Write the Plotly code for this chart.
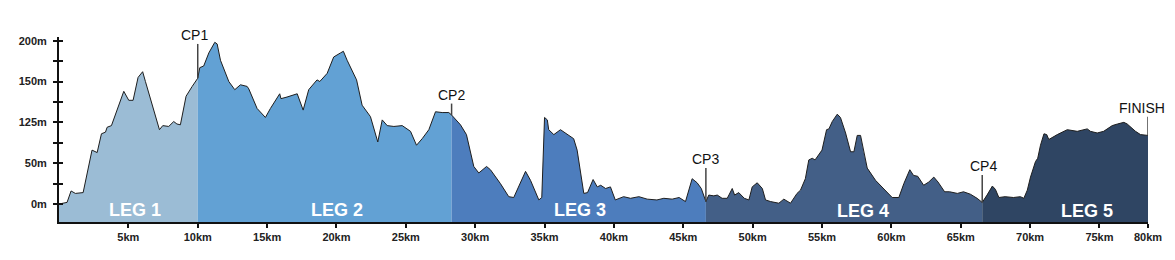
import plotly.graph_objects as go

# ---------------- data ----------------
distance_km = [
    0.0, 0.58, 0.87, 1.18, 1.74, 2.07, 2.38, 2.75, 3.06, 3.35, 3.47, 3.78, 4.14, 4.67,
    5.03, 5.34, 5.7, 6.03, 6.23, 6.71, 7.24, 7.48, 7.91, 8.27, 8.5, 8.75, 9.16, 9.6,
    10.0, 10.15, 10.43, 10.8, 11.23, 11.4, 11.64, 12.24, 12.67, 13.08, 13.56, 13.68,
    14.28, 14.88, 15.24, 15.91, 16.0, 16.44, 17.17, 17.6, 18.0, 18.6, 18.8, 19.33,
    19.8, 20.29, 20.5, 20.77, 21.25, 21.45, 21.85, 22.45, 22.98, 23.3, 23.66, 24.14,
    24.74, 25.34, 25.77, 26.18, 26.66, 27.14, 27.62, 28.1,
    28.3, 28.94, 29.37, 29.9, 30.26, 30.82, 31.1, 31.82, 32.42, 32.78, 33.63, 33.99,
    34.59, 34.8, 35.0, 35.2, 35.3, 35.67, 36.15, 36.63, 37.1, 37.35, 37.83, 38.1,
    38.5, 38.8, 39.05, 39.4, 39.75, 40.1, 40.7, 41.2, 41.8, 42.4, 43.1, 43.6, 44.2,
    44.7, 45.16, 45.64, 46.0, 46.3,
    46.63, 46.84, 47.2, 47.45, 47.8, 48.17, 48.53, 48.7, 49.0, 49.4, 49.73, 49.97,
    50.33, 50.7, 50.93, 51.3, 51.89, 52.25, 52.73, 53.2, 53.45, 53.8, 54.05, 54.3,
    54.5, 55.0, 55.33, 55.5, 55.74, 56.1, 56.33, 56.7, 57.06, 57.3, 57.54, 57.78,
    58.0, 58.26, 58.86, 59.46, 60.06, 60.54, 60.9, 61.33, 61.6, 61.9, 62.33, 62.7,
    63.06, 63.36, 63.84, 64.2, 64.76, 65.2, 65.7, 66.18,
    66.55, 66.9, 67.28, 67.5, 67.75, 68.2, 68.8, 69.3, 69.55, 69.8, 70.03, 70.39,
    70.55, 70.75, 71.0, 71.2, 71.35, 71.96, 72.68, 73.4, 74.12, 74.35, 74.84, 75.3,
    75.92, 76.3, 76.76, 77.0, 77.6, 77.96, 78.5,
]
elevation = [
    0, 2, 16, 13, 14, 42, 66, 63, 86, 88, 94, 96, 114, 138,
    127, 127, 155, 162, 150, 123, 91, 96, 95, 101, 98, 97, 132, 144,
    154, 167, 169, 185, 198, 196, 176, 150, 140, 146, 144, 141,
    117, 106, 117, 135, 129, 131, 135, 115, 140, 152, 150, 160,
    180, 185, 187, 176, 158, 152, 121, 107, 76, 103, 96, 95,
    96, 89, 72, 80, 91, 113, 112, 112,
    109, 97, 85, 46, 38, 46, 42, 25, 9, 8, 40, 29,
    5, 8, 106, 103, 91, 85, 91, 85, 80, 66, 13, 14,
    30, 21, 23, 19, 21, 5, 9, 7, 9, 6, 5, 7, 6,
    8, 3, 31, 26, 19,
    3, 11, 10, 11, 7, 7, 19, 11, 14, 7, 5, 21,
    26, 19, 5, 3, 1, 6, 1, 13, 17, 31, 54, 56,
    54, 66, 91, 92, 101, 110, 106, 87, 64, 64, 84, 84,
    64, 44, 29, 19, 8, 8, 25, 42, 35, 34, 23, 27,
    33, 27, 15, 15, 13, 15, 12, 7,
    2, 11, 22, 18, 8, 9, 8, 9, 7, 17, 33, 52,
    56, 72, 86, 85, 79, 85, 91, 89, 92, 89, 87, 89,
    96, 98, 100, 98, 89, 85, 84,
]

leg_names = ["LEG 1", "LEG 2", "LEG 3", "LEG 4", "LEG 5"]
leg_bounds_km = [0.0, 10.0, 28.3, 46.63, 66.55, 78.5]
checkpoint_names = ["CP1", "CP2", "CP3", "CP4", "FINISH"]
checkpoint_km = [10.0, 28.3, 46.63, 66.55, 78.5]

x_tick_vals = [5, 10, 15, 20, 25, 30, 35, 40, 45, 50, 55, 60, 65, 70, 75, 78.5]
x_tick_text = ["5km", "10km", "15km", "20km", "25km", "30km", "35km", "40km",
               "45km", "50km", "55km", "60km", "65km", "70km", "75km", "80km"]
y_tick_vals = [0, 50, 100, 150, 200]
y_tick_text = ["0m", "50m", "125m", "150m", "200m"]

# ---------------- style ----------------
leg_colors = ["#9bbcd5", "#62a1d4", "#4d7dbd", "#435f87", "#2f4563"]
Y_MIN, Y_MAX = -22, 204.5
X_MAX = 78.5
label_x = [5.51, 20.05, 37.59, 57.99, 74.12]
label_y = [-7.5, -7.5, -7.5, -9.0, -9.0]
cp_top = [196, 123, 44, 35.5, 107]
cp_xshift = [-3, 0, 0, 1, -6]

fig = go.Figure()

for i in range(len(leg_names)):
    a, b = leg_bounds_km[i], leg_bounds_km[i + 1]
    seg = [(d, e) for d, e in zip(distance_km, elevation) if a - 1e-9 <= d <= b + 1e-9]
    xs = [d for d, _ in seg] + [b, a]
    ys = [e for _, e in seg] + [Y_MIN, Y_MIN]
    fig.add_trace(go.Scatter(x=xs, y=ys, mode="lines", fill="toself",
                             fillcolor=leg_colors[i], line=dict(width=0, color=leg_colors[i]),
                             hoverinfo="skip", showlegend=False))

# outline on top (y2 overlays y with identical range)
fig.add_trace(go.Scatter(x=distance_km, y=elevation, mode="lines",
                         line=dict(color="#1e1e1e", width=1), yaxis="y2",
                         hoverinfo="skip", showlegend=False))

elev_at = dict(zip(distance_km, elevation))
for i, name in enumerate(checkpoint_names):
    cx = checkpoint_km[i]
    fig.add_shape(type="line", x0=cx, x1=cx, y0=elev_at[cx], y1=cp_top[i],
                  xref="x", yref="y", line=dict(color="#444", width=1.5), layer="above")
    fig.add_annotation(x=cx, y=cp_top[i], text=name, showarrow=False,
                       xanchor="center", yanchor="bottom", xshift=cp_xshift[i], yshift=-1,
                       font=dict(family="Liberation Sans, Arial", size=14, color="#111"))

for i, name in enumerate(leg_names):
    fig.add_annotation(x=label_x[i], y=label_y[i], text=name, showarrow=False,
                       xanchor="center", yanchor="middle",
                       font=dict(family="Liberation Sans, Arial", size=18, color="white",
                                 weight="bold"))

tickfont = dict(family="Liberation Sans, Arial", size=11, color="#222", weight="bold")
fig.update_layout(
    width=1175, height=260,
    margin=dict(l=59, r=27, t=37, b=38),
    paper_bgcolor="white", plot_bgcolor="white",
    showlegend=False,
    xaxis=dict(range=[0, X_MAX], showgrid=False, zeroline=False, showline=True,
               linecolor="#111", linewidth=2, ticks="outside", ticklen=4, tickwidth=2,
               tickcolor="#111", tickvals=x_tick_vals, ticktext=x_tick_text,
               tickfont=tickfont, fixedrange=True),
    yaxis=dict(range=[Y_MIN, Y_MAX], showgrid=False, zeroline=False, showline=True,
               linecolor="#111", linewidth=2, ticks="outside", ticklen=4, tickwidth=2,
               tickcolor="#111", tickvals=y_tick_vals, ticktext=y_tick_text,
               tickfont=tickfont, ticklabelstandoff=4,
               minor=dict(tickvals=[25, 75, 125, 175], ticks="outside", ticklen=4,
                          tickwidth=2, tickcolor="#111")),
    yaxis2=dict(range=[Y_MIN, Y_MAX], overlaying="y", side="left", showgrid=False,
                zeroline=False, showline=False, ticks="inside", ticklen=4, tickwidth=2,
                tickcolor="#111", tickvals=[0, 25, 50, 75, 100, 125, 150, 175, 200],
                showticklabels=False),
)

fig.write_html("out.html")
